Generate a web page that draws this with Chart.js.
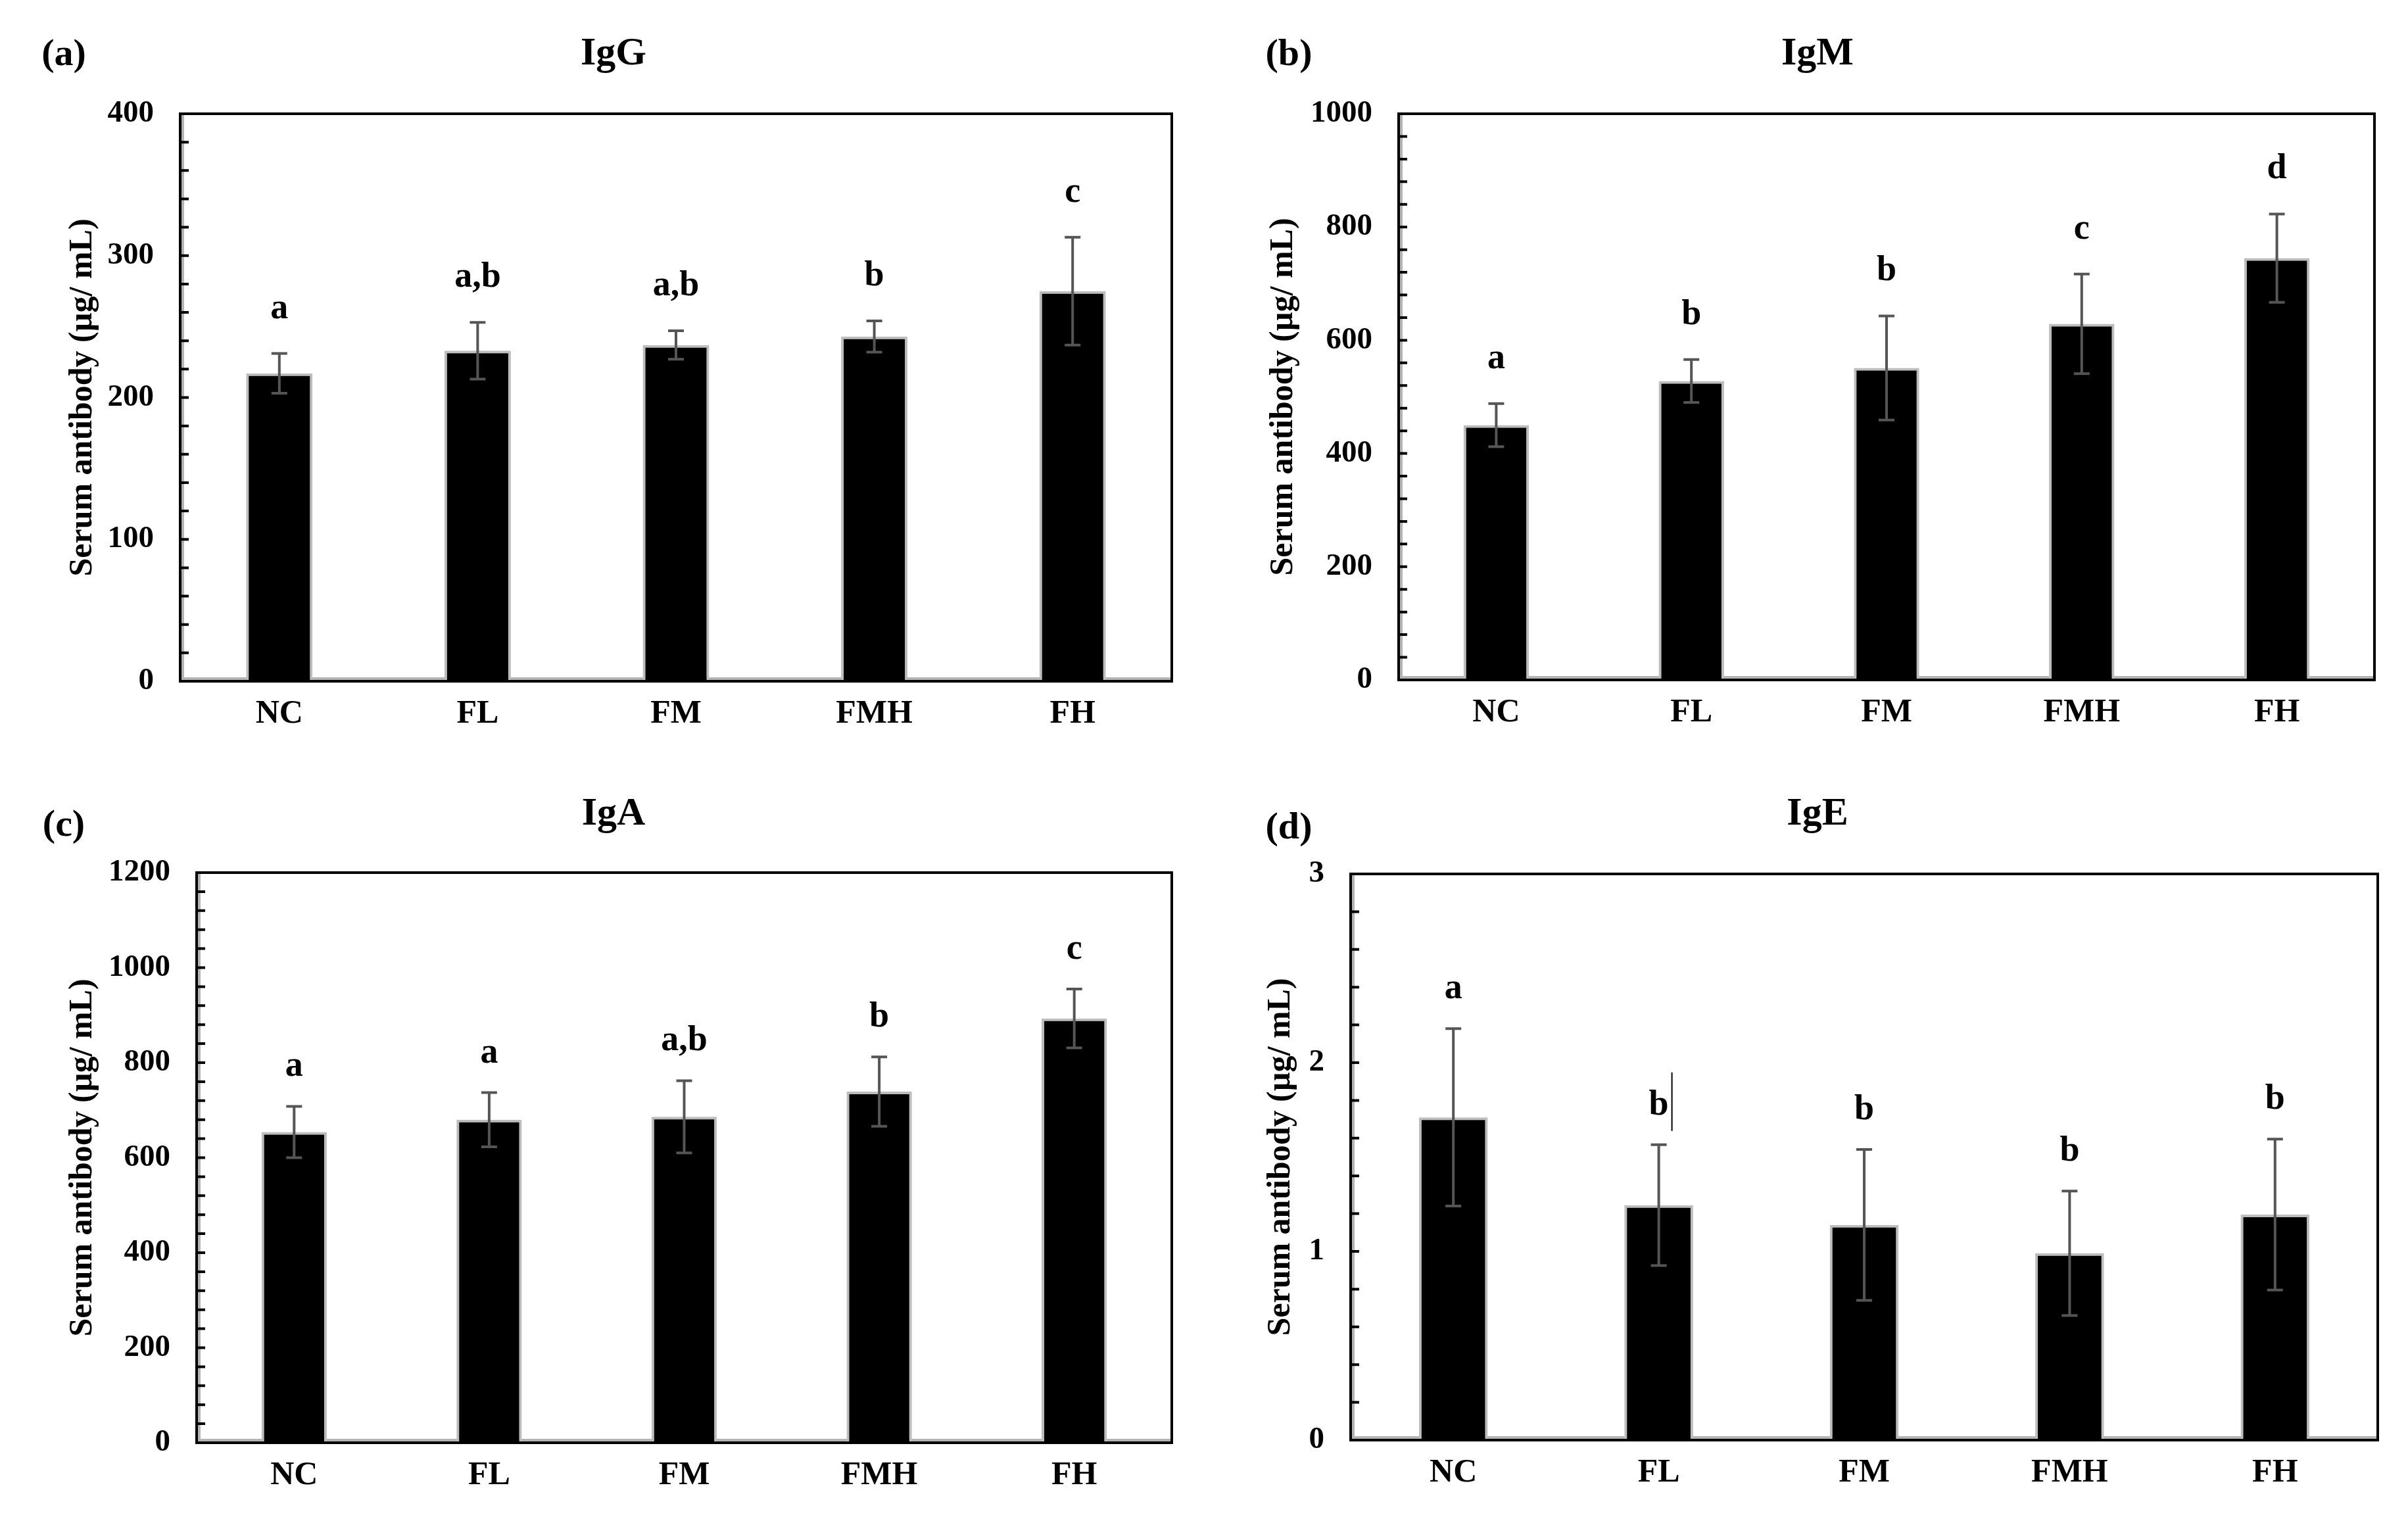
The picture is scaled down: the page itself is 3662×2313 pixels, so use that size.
<!DOCTYPE html>
<html>
<head>
<meta charset="utf-8">
<script src="https://cdn.jsdelivr.net/npm/chart.js@4.4.1/dist/chart.umd.min.js"></script>
<style>
  html, body { margin: 0; padding: 0; background: #fff; }
  body { width: 3662px; height: 2313px; position: relative; overflow: hidden; }
  .panel { position: absolute; }
  .lbl {
    position: absolute; transform: translate(-50%, -50%);
    font-family: 'Liberation Serif', 'Times New Roman', serif; font-weight: bold;
    color: #000; white-space: nowrap; line-height: 1;
  }
</style>
</head>
<body>
<div class="panel" id="pa" style="left:0;top:0;width:1831px;height:1156px"><canvas id="cA"></canvas></div>
<div class="panel" id="pb" style="left:1831px;top:0;width:1831px;height:1156px"><canvas id="cB"></canvas></div>
<div class="panel" id="pc" style="left:0;top:1156px;width:1831px;height:1157px"><canvas id="cC"></canvas></div>
<div class="panel" id="pd" style="left:1831px;top:1156px;width:1831px;height:1157px"><canvas id="cD"></canvas></div>

<div class="lbl" style="left:97px;top:80px;font-size:58px">(a)</div>
<div class="lbl" style="left:933px;top:78px;font-size:60px">IgG</div>
<div class="lbl" style="left:1960px;top:80px;font-size:58px">(b)</div>
<div class="lbl" style="left:2764px;top:78px;font-size:60px">IgM</div>
<div class="lbl" style="left:97px;top:1252px;font-size:58px">(c)</div>
<div class="lbl" style="left:933px;top:1234px;font-size:60px">IgA</div>
<div class="lbl" style="left:1960px;top:1256px;font-size:58px">(d)</div>
<div class="lbl" style="left:2764px;top:1234px;font-size:60px">IgE</div>

<script>
const groups = ['NC', 'FL', 'FM', 'FMH', 'FH'];

const iggMean = [217, 233, 237, 243, 275];
const iggErr = [14, 20, 10, 11, 38];
const iggLetters = ['a', 'a,b', 'a,b', 'b', 'c'];

const igmMean = [450, 528, 551, 629, 745];
const igmErr = [38, 38, 92, 88, 78];
const igmLetters = ['a', 'b', 'b', 'c', 'd'];

const igaMean = [654, 680, 686, 739, 893];
const igaErr = [54, 57, 76, 73, 62];
const igaLetters = ['a', 'a', 'a,b', 'b', 'c'];

const igeMean = [1.71, 1.245, 1.14, 0.99, 1.195];
const igeErr = [0.47, 0.32, 0.40, 0.33, 0.40];
const igeLetters = ['a', 'b', 'b', 'b', 'b'];

const yTitle = 'Serum antibody (\u00b5g/ mL)';
const serif = "'Liberation Serif', 'Times New Roman', serif";

// error bars, letters, frame and inward ticks
const marks = {
  id: 'marks',
  beforeDatasetsDraw(chart) {
    const { ctx, chartArea: a } = chart;
    ctx.save();
    ctx.strokeStyle = '#b4b4b4';
    ctx.lineWidth = 4;
    ctx.beginPath();
    ctx.moveTo(a.left + 4, a.top);
    ctx.lineTo(a.left + 4, a.bottom - 4);
    ctx.lineTo(a.right, a.bottom - 4);
    ctx.stroke();
    ctx.restore();
  },
  afterDatasetsDraw(chart, args, opts) {
    const { ctx } = chart;
    const y = chart.scales.y;
    const meta = chart.getDatasetMeta(0);
    const vals = chart.data.datasets[0].data;
    ctx.save();
    meta.data.forEach((bar, i) => {
      const top = y.getPixelForValue(vals[i] + opts.errors[i]);
      const bot = y.getPixelForValue(vals[i] - opts.errors[i]);
      ctx.strokeStyle = '#555';
      ctx.lineWidth = 4;
      ctx.beginPath();
      ctx.moveTo(bar.x, top); ctx.lineTo(bar.x, bot);
      ctx.moveTo(bar.x - 12, top); ctx.lineTo(bar.x + 12, top);
      ctx.moveTo(bar.x - 12, bot); ctx.lineTo(bar.x + 12, bot);
      ctx.stroke();

      const base = top - opts.gap;
      ctx.fillStyle = '#000';
      ctx.font = 'bold 54px ' + serif;
      ctx.textAlign = 'center';
      ctx.textBaseline = 'alphabetic';
      ctx.fillText(opts.letters[i], bar.x, base);
      if (opts.stray === i) {
        ctx.strokeStyle = '#000';
        ctx.lineWidth = 2;
        ctx.beginPath();
        ctx.moveTo(bar.x + 20, base - 64);
        ctx.lineTo(bar.x + 20, base + 25);
        ctx.stroke();
      }
    });
    ctx.restore();
  },
  afterDraw(chart) {
    const { ctx, chartArea: a } = chart;
    const y = chart.scales.y;
    ctx.save();
    ctx.strokeStyle = '#000';
    ctx.lineWidth = 4;
    ctx.beginPath();
    y.ticks.forEach((t, i) => {
      const py = y.getPixelForTick(i);
      ctx.moveTo(a.left, py);
      ctx.lineTo(a.left + 13, py);
    });
    ctx.stroke();
    ctx.strokeRect(a.left, a.top, a.right - a.left, a.bottom - a.top);
    ctx.restore();
  }
};

function makePanel(id, means, errs, letters, cfg) {
  new Chart(document.getElementById(id), {
    type: 'bar',
    data: {
      labels: groups,
      datasets: [{
        data: means,
        backgroundColor: '#000',
        borderColor: '#bdbdbd',
        borderWidth: 4,
        categoryPercentage: 1,
        barPercentage: 0.335
      }]
    },
    plugins: [marks],
    options: {
      responsive: true,
      maintainAspectRatio: false,
      devicePixelRatio: 1,
      animation: false,
      layout: {
        padding: { left: cfg.titleX - 30, top: cfg.top, right: cfg.right, bottom: 10 }
      },
      plugins: {
        legend: { display: false },
        tooltip: { enabled: false },
        marks: { errors: errs, letters: letters, gap: cfg.gap, stray: cfg.stray }
      },
      scales: {
        x: {
          grid: { display: false, drawTicks: false },
          border: { display: false },
          ticks: { color: '#000', padding: 20, font: { family: serif, size: 50, weight: 'bold' } },
          afterFit: (s) => { s.height = cfg.xh; }
        },
        y: {
          min: 0,
          max: cfg.max,
          grid: { display: false, drawTicks: false },
          border: { display: false },
          ticks: {
            stepSize: cfg.step,
            autoSkip: false,
            maxTicksLimit: 100,
            color: '#000',
            padding: 40,
            font: { family: serif, size: 47, weight: 'bold' },
            callback: (v) => {
              const r = v / cfg.major;
              return Math.abs(r - Math.round(r)) < 1e-6 ? String(Math.round(v * 1000) / 1000) : '';
            }
          },
          title: {
            display: true,
            text: yTitle,
            color: '#000',
            padding: 0,
            font: { family: serif, size: 50, weight: 'bold' }
          },
          afterFit: (s) => { s.width = cfg.left - (cfg.titleX - 30); }
        }
      }
    }
  });
}

makePanel('cA', iggMean, iggErr, iggLetters,
  { max: 400, step: 20, major: 100, titleX: 126, left: 274, right: 1831 - 1782, top: 173, xh: 1156 - 1036 - 10, gap: 54 });
makePanel('cB', igmMean, igmErr, igmLetters,
  { max: 1000, step: 40, major: 200, titleX: 121, left: 296, right: 1831 - 1780, top: 173, xh: 1156 - 1034 - 10, gap: 54 });
makePanel('cC', igaMean, igaErr, igaLetters,
  { max: 1200, step: 40, major: 200, titleX: 126, left: 299, right: 1831 - 1782, top: 171, xh: 1157 - 1038 - 10, gap: 46 });
makePanel('cD', igeMean, igeErr, igeLetters,
  { max: 3, step: 0.2, major: 1, titleX: 117, left: 223, right: 1831 - 1785, top: 173, xh: 1157 - 1034 - 10, gap: 46, stray: 1 });
</script>
</body>
</html>
